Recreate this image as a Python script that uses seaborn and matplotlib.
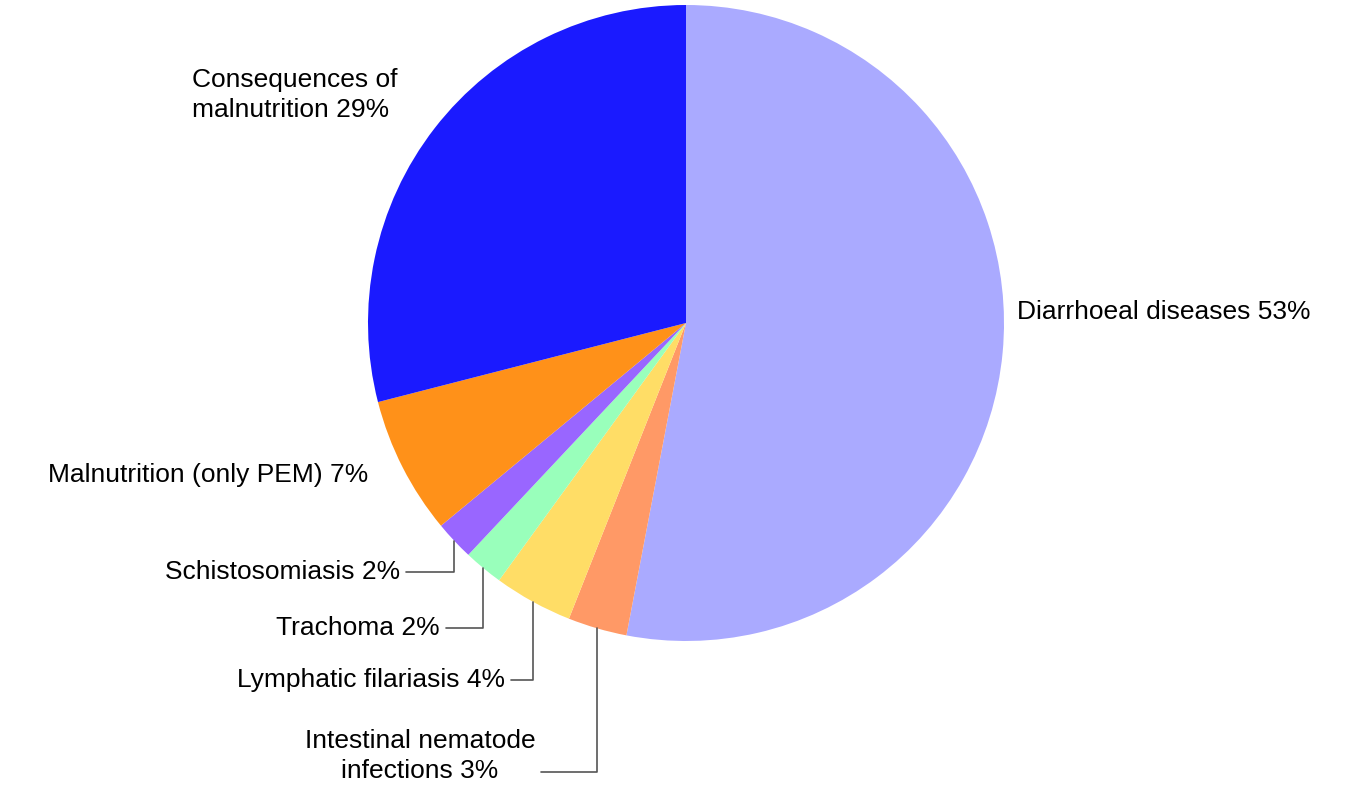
import numpy as np
import matplotlib
matplotlib.use("Agg")
import matplotlib.pyplot as plt
import seaborn as sns

labels = ["Diarrhoeal diseases", "Intestinal nematode\ninfections", "Lymphatic filariasis",
          "Trachoma", "Schistosomiasis", "Malnutrition (only PEM)", "Consequences of\nmalnutrition"]
values = [53, 3, 4, 2, 2, 7, 29]
colors = ["#aaaaff", "#ff9966", "#ffdd66", "#99ffbb", "#9966ff", "#ff9119", "#1a1aff"]

sns.set_theme(style="white")
plt.rcParams['font.family'] = ['Liberation Sans', 'DejaVu Sans']

W, H, cx, cy, R = 1360, 800, 686, 323, 318
fig = plt.figure(figsize=(13.6, 8), dpi=100)
ax = fig.add_axes([0, 0, 1, 1])

wedges, _ = ax.pie(values, colors=colors, startangle=90, counterclock=False, radius=1.0,
                   wedgeprops=dict(linewidth=0))
ax.set_xlim(-cx / R, (W - cx) / R)
ax.set_ylim(-(H - cy) / R, cy / R)
ax.set_aspect("equal")
ax.axis("off")

def d(px, py):
    return ((px - cx) / R, (cy - py) / R)

fs = 19
txt = [f"{l} {v}%" for l, v in zip(labels, values)]
ax.text(*d(1017, 312), txt[0], ha="left", va="center", fontsize=fs, color="black")
ax.text(*d(192, 95), txt[6], ha="left", va="center", fontsize=fs, color="black",
        linespacing=1.3)
ax.text(*d(368, 475), txt[5], ha="right", va="center", fontsize=fs, color="black")

# small labels with elbow leaders: (label right x, label y)
leaders = {4: (400, 572), 3: (440, 628), 2: (505, 680), 1: (535, 772)}
for i, (lx, ly) in leaders.items():
    w = wedges[i]
    ang = np.deg2rad((w.theta1 + w.theta2) / 2)
    px, py = np.cos(ang), np.sin(ang)
    x0, y0 = d(lx + 6, ly)
    ax.plot([x0, px, px], [y0, y0, py], color="#555555", lw=1.2)
    if i == 1:
        ax.text(*d(420, 756), txt[1], ha="center", va="center", fontsize=fs,
                color="black", linespacing=1.3)
    else:
        ax.text(*d(lx, ly), txt[i], ha="right", va="center", fontsize=fs, color="black")

fig.savefig("out.png", dpi=100, facecolor="white")
